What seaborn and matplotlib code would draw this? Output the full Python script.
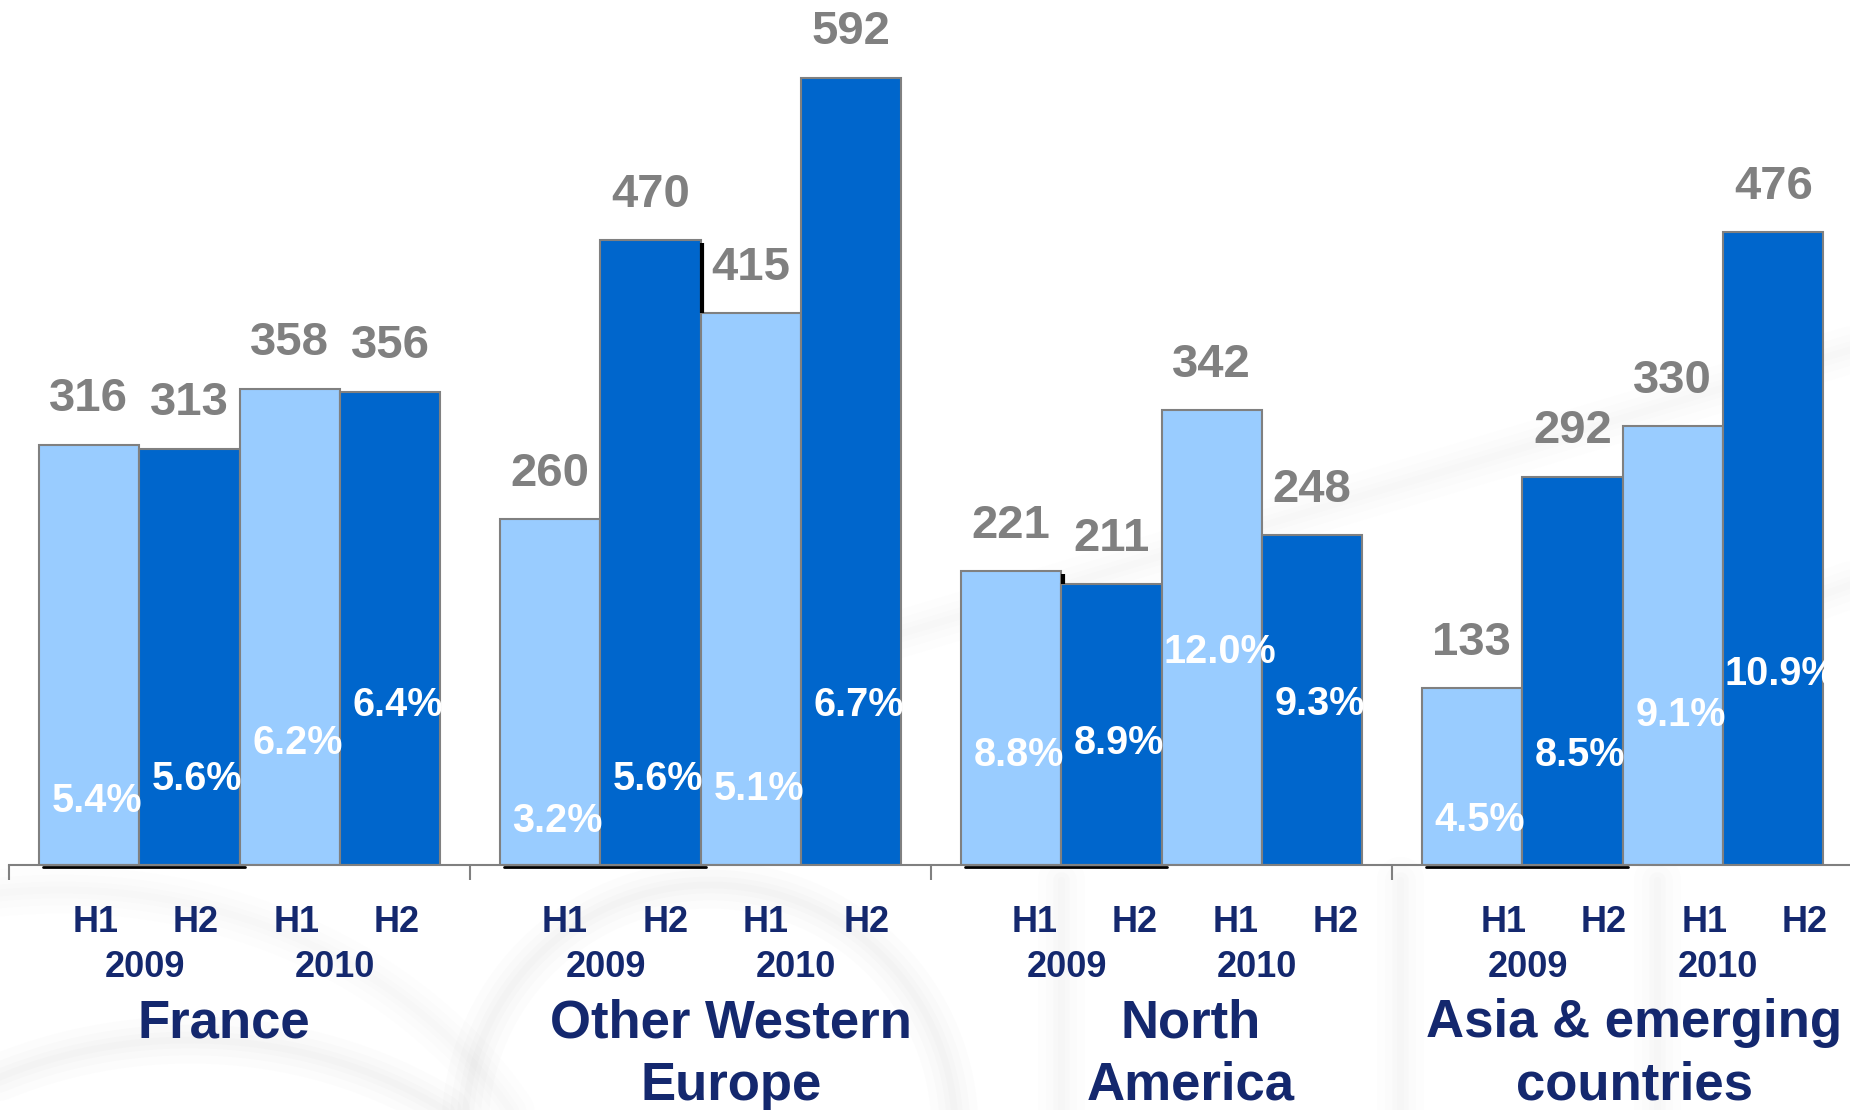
import matplotlib
matplotlib.use("Agg")
import matplotlib.pyplot as plt
import numpy as np
import pandas as pd
import seaborn as sns
from matplotlib.transforms import blended_transform_factory

# Sales by region and half-year (values) and operating margin (%)
regions = ["France", "Other Western Europe", "North America", "Asia & emerging countries"]
region_titles = [["France"], ["Other Western", "Europe"], ["North", "America"],
                 ["Asia & emerging", "countries"]]
periods = ["H1 2009", "H2 2009", "H1 2010", "H2 2010"]
half_labels = ["H1", "H2", "H1", "H2"]
year_labels = ["2009", "2010"]

france = [316, 313, 358, 356]
other_western_europe = [260, 470, 415, 592]
north_america = [221, 211, 342, 248]
asia_emerging = [133, 292, 330, 476]

france_margin = [5.4, 5.6, 6.2, 6.4]
other_western_europe_margin = [3.2, 5.6, 5.1, 6.7]
north_america_margin = [8.8, 8.9, 12.0, 9.3]
asia_emerging_margin = [4.5, 8.5, 9.1, 10.9]

# layout: height (in value units) at which each margin label sits inside its bar
margin_label_y = [[48, 65, 92, 120], [33, 65, 57, 120], [83, 92, 160, 121], [34, 83, 113, 144]]
# layout: horizontal nudge of each region title relative to its group centre
title_dx = [-0.034, 0.066, 0.064, 0.025]

sales = [france, other_western_europe, north_america, asia_emerging]
margins = [france_margin, other_western_europe_margin, north_america_margin, asia_emerging_margin]

df = pd.DataFrame(
    [(r, p, v) for r, vals in zip(regions, sales) for p, v in zip(periods, vals)],
    columns=["region", "period", "sales"],
)

LIGHT = "#99CCFF"
DARK = "#0066CC"
GREY = "#808080"
NAVY = "#14286E"
palette = {"H1 2009": LIGHT, "H2 2009": DARK, "H1 2010": LIGHT, "H2 2010": DARK}

sns.set_theme(style="white")
plt.rcParams["font.family"] = ["Liberation Sans", "DejaVu Sans"]
plt.rcParams["font.weight"] = "bold"

W, H = 1850, 1110
fig = plt.figure(figsize=(W / 100, H / 100), dpi=100)

# faint watermark swooshes behind the chart (pixel coordinates, y downward)
bg = fig.add_axes([0, 0, 1, 1], zorder=0)
bg.set_xlim(0, W)
bg.set_ylim(H, 0)
bg.axis("off")


def soft_stroke(xs, ys, strength=1.0):
    for lw, a in ((34, 0.018), (22, 0.022), (12, 0.025), (5, 0.02)):
        bg.plot(xs, ys, color="#8a8a8a", lw=lw, alpha=a * strength, solid_capstyle="round")


t = np.linspace(0, 2 * np.pi, 400)
soft_stroke(190 + 430 * np.cos(t), 1400 + 360 * np.sin(t))
soft_stroke(710 + 245 * np.cos(t), 1130 + 245 * np.sin(t))
soft_stroke(60 + 520 * np.cos(t), 1330 + 440 * np.sin(t), 0.7)
for xv in (1061, 1400, 1657):
    soft_stroke([xv, xv], [880, H], 0.8)
soft_stroke([880, 1850], [640, 350], 0.7)
soft_stroke([1560, 1850], [690, 585], 0.7)

ax = fig.add_axes([9 / W, 245 / H, 1844 / W, 865 / H], zorder=1)

GROUP_W = 0.872
sns.barplot(
    data=df, x="region", y="sales", hue="period", order=regions, hue_order=periods,
    palette=palette, saturation=1, width=GROUP_W, gap=0, edgecolor=GREY, linewidth=1.5,
    legend=False, errorbar=None, ax=ax,
)

ax.set_xlim(-0.5, 3.5)
ax.set_ylim(0, 650.6)
ax.set_xlabel("")
ax.set_ylabel("")
ax.set_yticks([])
ax.set_xticks([])
ax.set_xticks([-0.5, 0.5, 1.5, 2.5], minor=True)
ax.tick_params(axis="x", which="minor", bottom=True, direction="out", length=11,
               width=1.5, color=GREY)
for side in ("top", "right", "left"):
    ax.spines[side].set_visible(False)
ax.spines["bottom"].set_color(GREY)
ax.spines["bottom"].set_linewidth(1.5)
ax.patch.set_alpha(0)

bar_w = GROUP_W / len(periods)

# sales values above bars
for cont in ax.containers:
    ax.bar_label(cont, fmt="%d", padding=17, fontsize=34, fontweight="bold", color=GREY)

# margin percentages inside bars
for j, cont in enumerate(ax.containers):
    for g, patch in enumerate(cont.patches):
        xc = patch.get_x() + patch.get_width() / 2
        ax.text(xc + 0.017, margin_label_y[g][j], f"{margins[g][j]:.1f}%",
                ha="center", va="center", fontsize=28.5, fontweight="bold", color="white")

# dark edge shadows under the 2009 bars and beside the taller neighbouring bar
for g in range(len(regions)):
    ax.plot([g - 0.427, g + 0.013], [-1.6, -1.6], color="black", lw=2, clip_on=False, zorder=1)
shadow_pairs = [(1, 1), (2, 0)]
for g, j in shadow_pairs:
    x_edge = g + (j + 1 - 2) * bar_w + 0.004
    lo = sales[g][j + 1]
    hi = sales[g][j] - 2
    ax.plot([x_edge, x_edge], [lo, hi], color="black", lw=3, zorder=1, solid_capstyle="butt")

# category labels below the axis
tr = blended_transform_factory(ax.transData, fig.transFigure)
for g in range(len(regions)):
    for j, lab in enumerate(half_labels):
        x = g * 1.018 + (j - 1.5) * bar_w + 0.015
        ax.text(x, 1 - 932 / H, lab, transform=tr, ha="center", va="baseline",
                fontsize=26, fontweight="bold", color=NAVY)
    for k, yr in enumerate(year_labels):
        x = g + (2 * k - 1) * bar_w + (0.012 if k == 0 else -0.012)
        ax.text(x, 1 - 977 / H, yr, transform=tr, ha="center", va="baseline",
                fontsize=26, fontweight="bold", color=NAVY)
    for li, line in enumerate(region_titles[g]):
        ax.text(g + title_dx[g], 1 - (1037 + 63 * li) / H, line, transform=tr,
                ha="center", va="baseline", fontsize=38, fontweight="bold", color=NAVY)

fig.savefig("out.png", dpi=100, facecolor="white")
